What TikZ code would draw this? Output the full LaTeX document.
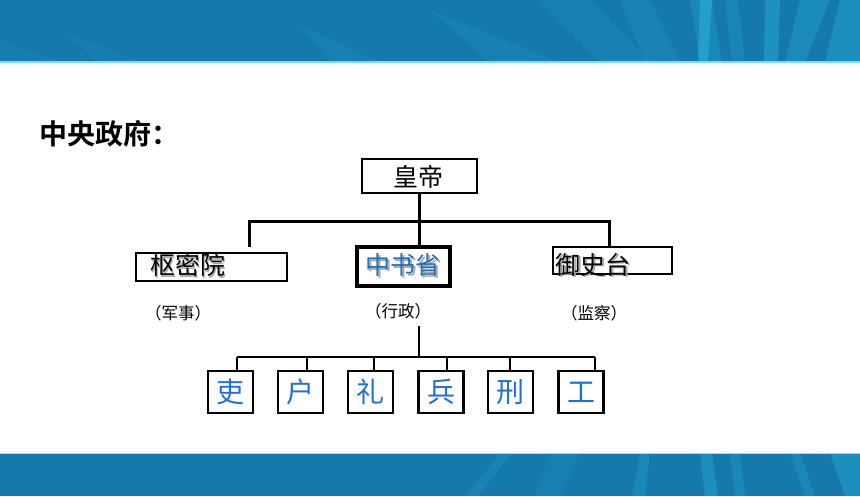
\documentclass[tikz,border=0pt]{standalone}
\usepackage{fontspec}
\setmainfont{Noto Sans CJK SC}
\newfontfamily\cjk{Noto Sans CJK SC}
\newfontfamily\cjkb{Noto Sans CJK SC}[BoldFont={Noto Sans CJK SC Bold}]
\definecolor{bandblue}{HTML}{1579AC}
\definecolor{streak}{HTML}{2CC0E8}
\definecolor{xsblue}{HTML}{1C6FB8}
\definecolor{bublue}{HTML}{1F6FE0}
\newcommand{\shtxt}[2]{\makebox[0pt][l]{\hspace{1.6pt}\raisebox{-1.6pt}{\color{black!35}#2}}{\color{#1}#2}}
\begin{document}
\begin{tikzpicture}[x=1pt,y=-1pt,
  box/.style={draw=black,line width=2.6pt,inner sep=0pt,fill=white},
  conn/.style={draw=black,line width=3pt},
  conn2/.style={draw=black,line width=2.4pt},
  lbl/.style={font=\cjk\fontsize{16.5}{16.5}\selectfont,inner sep=0pt},
  big/.style={font=\cjk\fontsize{25}{25}\selectfont,inner sep=0pt},
  bu/.style={box,minimum width=45pt,minimum height=42pt,font=\cjk\fontsize{28}{28}\selectfont,text=bublue}]
\useasboundingbox (0,0) rectangle (860,496);
% top band
\fill[bandblue] (0,0) rectangle (860,62);
\begin{scope}
\clip (0,0) rectangle (860,62);
\fill[streak,opacity=0.08] (0,40) -- (60,62) -- (0,62) -- cycle;
\fill[streak,opacity=0.08] (60,30) -- (140,62) -- (100,62) -- cycle;
\fill[streak,opacity=0.1] (300,25) -- (380,62) -- (330,62) -- cycle;
\fill[streak,opacity=0.12] (430,10) -- (560,62) -- (490,62) -- cycle;
\fill[streak,opacity=0.12] (540,0) -- (590,0) -- (650,62) -- (600,62) -- cycle;
\fill[streak,opacity=0.15] (620,0) -- (650,0) -- (680,62) -- (645,62) -- cycle;
\fill[streak,opacity=0.2] (690,0) -- (712,0) -- (722,62) -- (700,62) -- cycle;
\fill[streak,opacity=0.18] (725,0) -- (738,0) -- (745,62) -- (732,62) -- cycle;
\fill[streak,opacity=0.45] (700,0) -- (712,0) -- (708,62) -- (698,62) -- cycle;
\fill[streak,opacity=0.35] (765,0) -- (780,0) -- (778,62) -- (764,62) -- cycle;
\fill[streak,opacity=0.25] (800,0) -- (830,0) -- (805,62) -- (785,62) -- cycle;
\fill[streak,opacity=0.3] (840,0) -- (860,0) -- (860,62) -- (825,62) -- cycle;
\end{scope}
\fill[streak!60!white] (0,61) rectangle (860,62.5);
% bottom band
\fill[bandblue] (0,453) rectangle (860,496);
\begin{scope}
\clip (0,453) rectangle (860,496);
\fill[streak,opacity=0.15] (500,453) -- (512,453) -- (478,496) -- (466,496) -- cycle;
\fill[streak,opacity=0.1] (550,453) -- (580,453) -- (560,496) -- (535,496) -- cycle;
\fill[streak,opacity=0.2] (640,453) -- (650,453) -- (645,496) -- (632,496) -- cycle;
\fill[streak,opacity=0.3] (700,453) -- (712,453) -- (718,496) -- (705,496) -- cycle;
\fill[streak,opacity=0.2] (730,453) -- (740,453) -- (745,496) -- (735,496) -- cycle;
\fill[streak,opacity=0.2] (790,453) -- (800,453) -- (815,496) -- (805,496) -- cycle;
\fill[streak,opacity=0.3] (830,453) -- (860,453) -- (860,496) -- (845,496) -- cycle;
\end{scope}
\fill[streak!50!white] (0,453) rectangle (860,454);
% title
\node[anchor=west,inner sep=0pt,font=\cjkb\bfseries\fontsize{28}{28}\selectfont] (title) at (39,134) {中央政府：};
% top level
\node[box,minimum width=115pt,minimum height=34pt] (hd) at (419.5,176) {};
\node[big] (hdt) at (418,177) {皇帝};
% second level
\node[box,minimum width=151pt,minimum height=28pt] (sm) at (211.5,267) {};
\node[big] (smt) at (187.5,266) {\shtxt{black}{枢密院}};
\node[box,line width=3.4pt,minimum width=93pt,minimum height=39pt] (xs) at (403.5,266.5) {};
\node[big] (xst) at (403,266) {\shtxt{xsblue}{中书省}};
\node[box,minimum width=119pt,minimum height=27pt] (ys) at (612.5,260.5) {};
\node[big] (yst) at (593,265.5) {\shtxt{black}{御史台}};
% labels
\node[lbl] (l1) at (178,313) {（军事）};
\node[lbl] (l2) at (398,311) {（行政）};
\node[lbl] (l3) at (594,313) {（监察）};
% connectors level 1
\coordinate (jc) at (419,221);
\coordinate (jl) at (249,221);
\coordinate (jr) at (609,221);
\coordinate (jlb) at (249,247);
\draw[conn] (jc |- hd.south) -- (jc |- xs.north);
\draw[conn] (jlb) -- (jl) -- (jr) -- (jr |- ys.north);
% bottom boxes
\node[bu] (b1) at (230.5,392) {吏};
\node[bu] (b2) at (300.5,392) {户};
\node[bu] (b3) at (370.5,392) {礼};
\node[bu] (b4) at (441,392) {兵};
\node[bu] (b5) at (510.5,392) {刑};
\node[bu] (b6) at (581,392) {工};
\coordinate (mt) at (419,326);
\coordinate (mb) at (419,357);
\coordinate (d1) at (237,357);
\coordinate (d2) at (307,357);
\coordinate (d3) at (374,357);
\coordinate (d4) at (447,357);
\coordinate (d5) at (510,357);
\coordinate (d6) at (595,357);
\draw[conn2] (mt) -- (mb);
\draw[conn2] (d1) -- (d6);
\foreach \i in {1,...,6}{\draw[conn2] (d\i) -- (d\i |- b\i.north);}
\end{tikzpicture}
\end{document}
